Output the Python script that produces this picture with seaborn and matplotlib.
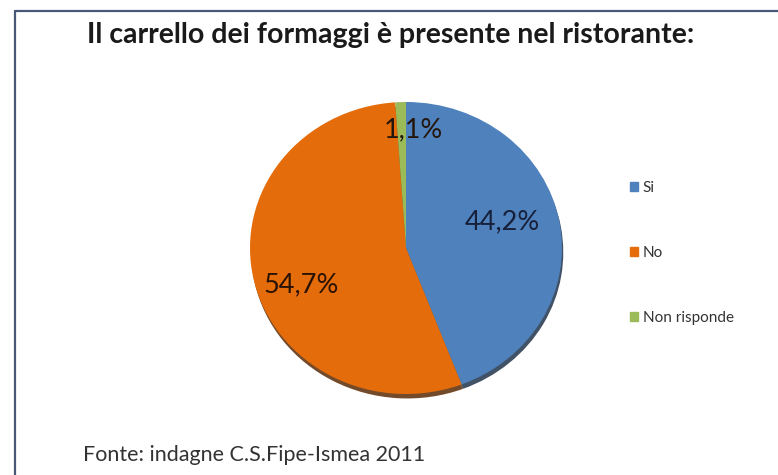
import matplotlib
matplotlib.use("Agg")
import matplotlib.pyplot as plt
from matplotlib.lines import Line2D
from matplotlib.patches import Shadow
import seaborn as sns

# Survey answers
categories = ["Si", "No", "Non risponde"]
shares = [44.2, 54.7, 1.1]
title = "Il carrello dei formaggi è presente nel ristorante:"
source = "Fonte: indagne C.S.Fipe-Ismea 2011"

sns.set_theme(style="white")
plt.rcParams["font.family"] = ["Lato", "DejaVu Sans"]
palette = ["#4F81BD", "#E46C0A", "#9BBB59"]

W, H = 778, 475
fig = plt.figure(figsize=(W / 100, H / 100), dpi=100)
fig.patch.set_facecolor("white")

# pie axes placed in pixel units (slightly flattened like a tilted pie)
cx, cy, rx, ry = 406, 248, 156, 146
ax = fig.add_axes([(cx - rx) / W, (H - cy - ry) / H, 2 * rx / W, 2 * ry / H])

def fmt(p):
    return f"{p:.1f}%".replace(".", ",")

wedges, texts, autotexts = ax.pie(
    shares,
    colors=palette,
    startangle=90,
    counterclock=False,
    autopct=fmt,
    pctdistance=0.68,
    shadow={"ox": 0.006, "oy": -0.022, "shade": 0.6},
    wedgeprops={"linewidth": 0},
    textprops={"fontsize": 19.5},
)
# darker drop edge under the pie
for p in ax.patches:
    if isinstance(p, Shadow):
        p.set_alpha(0.85)
ax.set_aspect("auto")
ax.set_xlim(-1, 1)
ax.set_ylim(-1, 1)
ax.axis("off")

label_pos = [(0.62, 0.18), (-0.67, -0.25), (0.045, 0.81)]
label_col = ["#16203a", "#2a1204", "#24160c"]
for t, p, c in zip(autotexts, label_pos, label_col):
    t.set_position(p)
    t.set_color(c)
    t.set_ha("center")
    t.set_va("center")

# legend
handles = [plt.Rectangle((0, 0), 1, 1, color=c) for c in palette]
fig.legend(
    handles, categories,
    loc="center left",
    bbox_to_anchor=(616 / W, (H - 253) / H),
    frameon=False,
    fontsize=11,
    handlelength=0.55,
    handleheight=0.55,
    handletextpad=0.3,
    labelspacing=3.35,
    labelcolor="#333333",
)

fig.text(391 / W, 1 - 35 / H, title, ha="center", va="center",
         fontsize=20.5, fontweight="bold", color="#1a1a1a")
fig.text(83 / W, 1 - 455 / H, source, ha="left", va="center",
         fontsize=15.5, color="#333333")

# frame lines
frame_col = "#4a5878"
fig.add_artist(Line2D([15 / W, 1], [1 - 10.5 / H, 1 - 10.5 / H],
                      transform=fig.transFigure, color=frame_col, lw=1.6))
fig.add_artist(Line2D([15 / W, 15 / W], [0, 1 - 10.5 / H],
                      transform=fig.transFigure, color=frame_col, lw=1.6))

fig.savefig("out.png", dpi=100)
